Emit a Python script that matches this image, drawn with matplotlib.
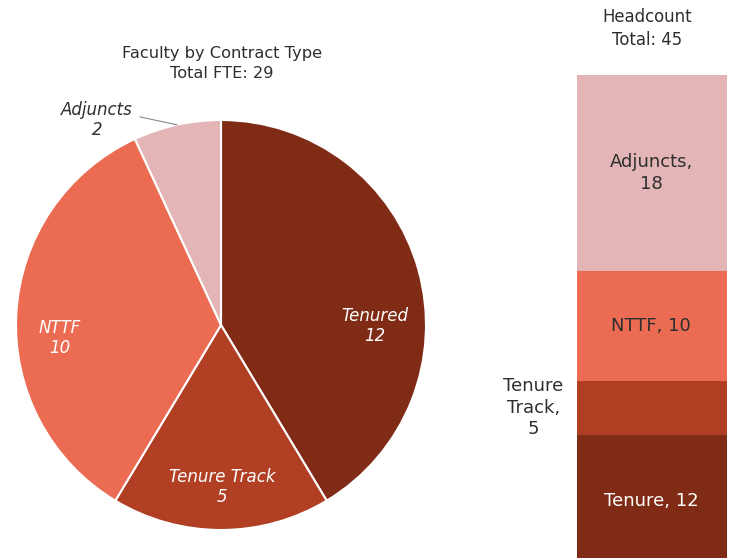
import matplotlib
matplotlib.use("Agg")
import matplotlib.pyplot as plt
import numpy as np

# FTE by contract type (pie)
fte_labels = ["Tenured", "Tenure Track", "NTTF", "Adjuncts"]
fte_values = [12, 5, 10, 2]

# Headcount by contract type (stacked bar, bottom to top)
hc_labels = ["Tenure", "Tenure Track", "NTTF", "Adjuncts"]
hc_values = [12, 5, 10, 18]

colors = ["#7f2b15", "#b03f24", "#ec6c53", "#e3b5b6"]
dark = "#2e2e2e"

plt.rcParams["font.family"] = ["DejaVu Sans"]

W, H = 729, 558
fig = plt.figure(figsize=(W / 100, H / 100), dpi=100)

def px_axes(x0, y0, x1, y1):
    """Axes from pixel box (top-left origin)."""
    return fig.add_axes([x0 / W, 1 - y1 / H, (x1 - x0) / W, (y1 - y0) / H])

# ---- Pie ----
cx, cy, r = 221, 325, 205
ax = px_axes(cx - r, cy - r, cx + r, cy + r)
wedges, _ = ax.pie(fte_values, colors=colors, startangle=90, counterclock=False,
                   radius=1, wedgeprops=dict(edgecolor="white", linewidth=1.5))
ax.set_xlim(-1, 1)
ax.set_ylim(-1, 1)
ax.set_aspect("equal")
ax.axis("off")

fs = 12
ls = 1.2
total_fte = sum(fte_values)
# inside labels
inside_pos = {"Tenured": (0.75, -0.005), "Tenure Track": (0.005, -0.79), "NTTF": (-0.785, -0.063)}
for lab, val in zip(fte_labels, fte_values):
    if lab in inside_pos:
        x, y = inside_pos[lab]
        ax.text(x, y, f"{lab}\n{val}", color="white", fontsize=fs, style="italic",
                ha="center", va="center", linespacing=ls)

# Adjuncts outside label with leader line
w = wedges[3]
mid = np.deg2rad((w.theta1 + w.theta2) / 2)
ex, ey = np.cos(mid), np.sin(mid)
ax.plot([ex, -0.395], [ey, 1.015], color="#888888", lw=0.8, clip_on=False)
ax.text(-0.605, 1.0, f"{fte_labels[3]}\n{fte_values[3]}", color=dark, fontsize=fs,
        style="italic", ha="center", va="center", linespacing=ls)

fig.text(222 / W, 1 - 63.5 / H, f"Faculty by Contract Type\nTotal FTE: {total_fte}",
         ha="center", va="center", fontsize=11.7, color=dark, linespacing=1.45)

# ---- Stacked bar ----
bfs = 13
bx = px_axes(577, 75, 727, 566)
bottom = 0
for lab, val, col in zip(hc_labels, hc_values, colors):
    bx.bar(0, val, bottom=bottom, width=1, color=col, edgecolor="none")
    mid_y = bottom + val / 2
    if lab == "Tenure Track":
        bx.text(-0.79, mid_y, "Tenure\nTrack,\n" + str(val), ha="center", va="center",
                fontsize=bfs, color=dark, linespacing=1.25, clip_on=False)
    elif lab == "Adjuncts":
        bx.text(-0.005, mid_y, f"{lab},\n{val}", ha="center", va="center",
                fontsize=bfs, color=dark, linespacing=1.25)
    else:
        bx.text(-0.005, mid_y, f"{lab}, {val}", ha="center", va="center", fontsize=bfs,
                color="white" if lab == "Tenure" else dark)
    bottom += val
bx.set_xlim(-0.5, 0.5)
bx.set_ylim(0, sum(hc_values))
bx.axis("off")

fig.text(647 / W, 1 - 28.5 / H, f"Headcount\nTotal: {sum(hc_values)}",
         ha="center", va="center", fontsize=11.9, color=dark, linespacing=1.4)

fig.savefig("out.png", dpi=100, facecolor="white")
